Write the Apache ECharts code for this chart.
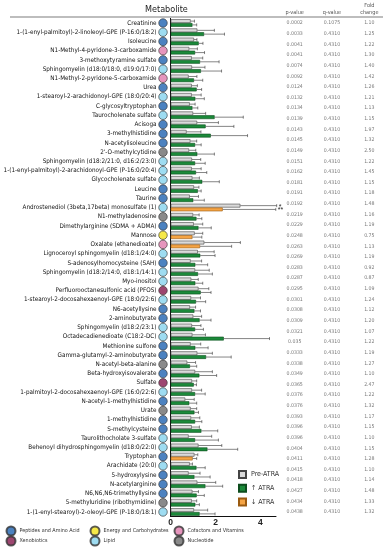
<!DOCTYPE html>
<html><head><meta charset="utf-8">
<script src="https://cdn.jsdelivr.net/npm/echarts@6/dist/echarts.min.js"></script>
<style>html,body{margin:0;padding:0;background:#fff}#c{width:388px;height:550px}</style>
</head><body><div id="c"></div><script>
const metabolites = [
'Creatinine','1-(1-enyl-palmitoyl)-2-linoleoyl-GPE (P-16:0/18:2)','Isoleucine','N1-Methyl-4-pyridone-3-carboxamide',
'3-methoxytyramine sulfate','Sphingomyelin (d18:0/18:0, d19:0/17:0)','N1-Methyl-2-pyridone-5-carboxamide','Urea',
'1-stearoyl-2-arachidonoyl-GPE (18:0/20:4)','C-glycosyltryptophan','Taurocholenate sulfate','Acisoga',
'3-methylhistidine','N-acetylisoleucine',"2'-O-methylcytidine",'Sphingomyelin (d18:2/21:0, d16:2/23:0)',
'1-(1-enyl-palmitoyl)-2-arachidonoyl-GPE (P-16:0/20:4)','Glycocholenate sulfate','Leucine','Taurine',
'Androstenediol (3beta,17beta) monosulfate (1)','N1-methyladenosine','Dimethylarginine (SDMA + ADMA)','Mannose',
'Oxalate (ethanedioate)','Lignoceroyl sphingomyelin (d18:1/24:0)','S-adenosylhomocysteine (SAH)','Sphingomyelin (d18:2/14:0, d18:1/14:1)',
'Myo-inositol','Perfluorooctanesulfonic acid (PFOS)','1-stearoyl-2-docosahexaenoyl-GPE (18:0/22:6)','N6-acetyllysine',
'2-aminobutyrate','Sphingomyelin (d18:2/23:1)','Octadecadienedioate (C18:2-DC)','Methionine sulfone',
'Gamma-glutamyl-2-aminobutyrate','N-acetyl-beta-alanine','Beta-hydroxyisovalerate','Sulfate',
'1-palmitoyl-2-docosahexaenoyl-GPE (16:0/22:6)','N-acetyl-1-methylhistidine','Urate','1-methylhistidine',
'S-methylcysteine','Taurolithocholate 3-sulfate','Behenoyl dihydrosphingomyelin (d18:0/22:0)','Tryptophan',
'Arachidate (20:0)','5-hydroxylysine','N-acetylarginine','N6,N6,N6-trimethyllysine',
'5-methyluridine (ribothymidine)','1-(1-enyl-stearoyl)-2-oleoyl-GPE (P-18:0/18:1)'
];
const classes = [
'A','L','A','C','A','L','C','A','L','A','L','A','A','A','N','L','L','L','A','A',
'L','N','A','E','C','L','A','L','L','X','L','A','A','L','L','A','A','N','A','X',
'L','A','N','A','A','L','L','A','L','A','A','A','N','L'
];
const preMean = [0.89,1.19,1.04,0.83,0.94,0.95,0.80,0.94,0.94,0.85,1.00,1.18,0.71,0.88,0.82,0.95,0.94,0.97,1.04,0.85,
3.11,1.00,1.03,1.07,1.50,1.21,0.89,1.09,0.92,1.24,0.91,0.86,1.01,0.95,0.97,0.89,1.19,0.74,1.09,0.95,
0.95,0.65,0.89,0.91,0.94,0.80,1.24,1.06,0.85,0.80,1.19,0.97,0.94,1.04];
const preErr = [0.17,0.76,0.13,0.36,0.49,0.58,0.37,0.25,0.42,0.24,0.56,0.95,0.64,0.28,0.30,0.39,0.42,0.31,0.22,0.39,
1.62,0.27,0.40,0.36,1.61,0.73,0.49,0.63,0.31,0.46,0.42,0.25,0.37,0.40,0.58,0.45,0.67,0.37,0.77,0.21,
0.43,0.40,0.27,0.39,0.34,1.03,1.04,0.15,0.12,0.51,0.82,0.27,0.22,0.61];
const atraMean = [0.97,1.49,1.25,1.09,1.31,1.35,1.04,1.16,1.10,0.97,1.96,1.56,1.79,1.09,1.19,1.09,1.13,1.41,1.21,1.01,
2.32,1.15,1.24,0.97,1.31,1.32,1.10,1.22,1.10,1.34,1.13,1.06,1.29,1.09,2.37,1.10,1.58,0.86,1.28,1.03,
1.09,0.83,1.06,1.09,1.37,1.09,1.64,0.98,1.15,1.06,1.55,1.16,1.10,1.29];
const atraErr = [0.19,0.91,0.19,0.42,0.85,0.92,0.39,0.22,0.40,0.24,1.28,1.26,1.64,0.27,0.76,0.45,0.48,0.76,0.15,0.49,
2.37,0.24,0.57,0.42,1.41,0.66,0.55,0.64,0.33,0.46,0.43,0.27,0.51,0.37,2.04,0.57,1.12,0.30,0.77,0.12,
0.45,0.33,0.18,0.30,0.73,1.04,1.35,0.18,0.39,0.70,0.77,0.34,0.18,0.69];
const direction = metabolites.map(function(){return 'up';});
const downRegulated = ['Androstenediol (3beta,17beta) monosulfate (1)','Mannose','Oxalate (ethanedioate)','Tryptophan'];
downRegulated.forEach(function(m){direction[metabolites.indexOf(m)]='down';});
const sigPre = {'Androstenediol (3beta,17beta) monosulfate (1)':'*'};
const sigAtra = {'Androstenediol (3beta,17beta) monosulfate (1)':'**'};

const pValues = ['0.0002','0.0033','0.0041','0.0041','0.0074','0.0092','0.0124','0.0132','0.0134','0.0139','0.0143','0.0145',
'0.0149','0.0151','0.0162','0.0181','0.0191','0.0192','0.0219','0.0229','0.0248','0.0263','0.0269','0.0283','0.0287',
'0.0295','0.0301','0.0308','0.0309','0.0321','0.035','0.0333','0.0338','0.0349','0.0365','0.0376','0.0376','0.0393',
'0.0396','0.0396','0.0404','0.0411','0.0415','0.0418','0.0427','0.0434','0.0438'];
const qValues = pValues.map(function(_,i){return i===0?'0.1075':'0.4310';});
const foldChange = ['1.10','1.25','1.22','1.30','1.40','1.42','1.26','1.21','1.13','1.15','1.97','1.32',
'2.50','1.22','1.45','1.15','1.18','1.48','1.16','1.19','0.75','1.13','1.19','0.92','0.87',
'1.09','1.24','1.12','1.20','1.07','1.22','1.19','1.27','1.10','2.47','1.22','1.32','1.17',
'1.15','1.10','1.15','1.28','1.10','1.14','1.48','1.33','1.32'];
const tableHeaders = ['p-value','q-value','Fold\nchange'];
const xTicks = [0,2,4];

const classCodes = ['A','E','C','X','L','N'];
const classNames = {A:'Peptides and Amino Acid',E:'Energy and Carbohydrates',C:'Cofactors and Vitamins',X:'Xenobiotics',L:'Lipid',N:'Nucleotide'};
const classColors = {A:'#1f63b0',E:'#f3e21a',C:'#e07aad',X:'#85184c',L:'#86d3ee',N:'#6d6d6d'};

const FONT = "'Liberation Sans Narrow','DejaVu Sans Condensed','Liberation Sans',sans-serif";
const GTOP = 18.4, GH = 498.2;
const TTOP = 17.7, TH = 499.6;

function errSeries(name, means, errs, slot, sigs){
  return {
    type:'custom', name:name, xAxisIndex:0, yAxisIndex:0, z:5, silent:true,
    data: means.map(function(m,i){return [m, errs[i], i];}),
    encode:{x:0, y:2},
    renderItem:function(params, api){
      const m = api.value(0), e = api.value(1), i = api.value(2);
      const c = api.coord([m, i]); const c2 = api.coord([m+e, i]);
      const band = api.size([0,1])[1];
      const y = c[1] + band*0.82/4*slot;
      const ch = [
        {type:'line', shape:{x1:c[0],y1:y,x2:c2[0],y2:y}, style:{stroke:'#333',lineWidth:0.6}},
        {type:'line', shape:{x1:c2[0],y1:y-1.5,x2:c2[0],y2:y+1.5}, style:{stroke:'#333',lineWidth:0.6}}
      ];
      const s = sigs[metabolites[i]];
      if (s) ch.push({type:'text', style:{text:s, x:c2[0]+2, y:y+1, verticalAlign:'middle', fill:'#222', font:'7px sans-serif'}});
      return {type:'group', children:ch};
    }
  };
}

const circleSeries = classCodes.map(function(k){
  return {
    type:'scatter', name:classNames[k], xAxisIndex:1, yAxisIndex:1, symbol:'circle', symbolSize:8.5,
    itemStyle:{color:classColors[k], borderColor:'#333', borderWidth:0.8},
    data: classes.map(function(c,i){return c===k?[0,i]:null;}).filter(function(d){return d;})
  };
});

const tableData = [];
pValues.forEach(function(p,r){
  [p, qValues[r], foldChange[r]].forEach(function(t,col){ tableData.push({value:[col,r], name:t}); });
});

const catLegendPos = [[5.5,525.5],[89.5,525.5],[173.5,525.5],[5.5,535.5],[89.5,535.5],[173.5,535.5]];
const catLegends = classCodes.map(function(k,j){
  return {data:[classNames[k]], left:catLegendPos[j][0], top:catLegendPos[j][1], padding:0, icon:'circle',
    itemWidth:9, itemHeight:9, itemGap:0, selectedMode:false,
    textStyle:{fontSize:5.4, fontFamily:FONT, color:'#333', padding:[0,0,0,-1]}};
});

const chart = echarts.init(document.getElementById('c'), null, {renderer:'canvas'});
chart.setOption({
  animation:false,
  title:{text:'Metabolite', left:145, top:5, padding:0, textStyle:{fontSize:9, fontWeight:'normal', fontFamily:FONT, color:'#222'}},
  graphic:[{type:'line', shape:{x1:10,y1:17,x2:383,y2:17}, style:{stroke:'#444', lineWidth:0.7}}],
  legend:[{data:['Pre-ATRA','↑ ATRA','↓ ATRA'], orient:'vertical', left:238, top:470, padding:0, icon:'rect',
    itemWidth:7, itemHeight:7, itemGap:4.7, selectedMode:false,
    textStyle:{fontSize:7, fontFamily:FONT, color:'#333'}}].concat(catLegends),
  grid:[
    {left:170.7, top:GTOP, width:105.3, height:GH},
    {left:158.5, top:GTOP, width:9, height:GH},
    {left:276, top:TTOP, width:114, height:TH}
  ],
  xAxis:[
    {type:'value', gridIndex:0, min:0, max:4.7, interval:2, splitLine:{show:false},
      axisLine:{show:true, lineStyle:{color:'#111', width:1}}, axisTick:{show:false},
      axisLabel:{margin:2, fontSize:8.5, fontWeight:'bold', color:'#222', fontFamily:'Liberation Sans, sans-serif',
        formatter:function(v){return xTicks.indexOf(v)>=0?String(v):'';}}},
    {type:'value', gridIndex:1, min:-1, max:1, show:false},
    {type:'category', gridIndex:2, position:'top', data:tableHeaders, axisLine:{show:false}, axisTick:{show:false},
      axisLabel:{margin:2, fontSize:5.5, color:'#555', fontFamily:FONT, lineHeight:6.5}}
  ],
  yAxis:[
    {type:'category', gridIndex:0, inverse:true, data:metabolites, axisLine:{show:true, lineStyle:{color:'#111', width:1}},
      axisTick:{show:false}, axisLabel:{show:false}},
    {type:'category', gridIndex:1, inverse:true, data:metabolites, axisLine:{show:false}, axisTick:{show:false},
      splitLine:{show:false}, axisLabel:{show:true, margin:2, fontSize:6.3, color:'#111', fontFamily:FONT, interval:0}},
    {type:'category', gridIndex:2, inverse:true, data:pValues.map(function(_,i){return i;}), show:false}
  ],
  series:[
    {type:'bar', name:'Pre-ATRA', xAxisIndex:0, yAxisIndex:0, data:preMean, barGap:'0%', barCategoryGap:'18%',
      itemStyle:{color:'#dadada', borderColor:'#444', borderWidth:0.6}},
    {type:'bar', name:'↑ ATRA', xAxisIndex:0, yAxisIndex:0, stack:'atra',
      data:atraMean.map(function(v,i){return direction[i]==='up'?v:'-';}),
      itemStyle:{color:'#1b8a3a', borderColor:'#0d4d1e', borderWidth:0.6}},
    {type:'bar', name:'↓ ATRA', xAxisIndex:0, yAxisIndex:0, stack:'atra',
      data:atraMean.map(function(v,i){return direction[i]==='down'?v:'-';}),
      itemStyle:{color:'#f5a444', borderColor:'#9a5a10', borderWidth:0.6}},
    errSeries('errPre', preMean, preErr, -1, sigPre),
    errSeries('errAtra', atraMean, atraErr, 1, sigAtra),
    {type:'scatter', xAxisIndex:2, yAxisIndex:2, symbolSize:0, data:tableData, silent:true,
      label:{show:true, position:'inside', formatter:'{b}', fontSize:5.2, color:'#555', fontFamily:FONT}}
  ].concat(circleSeries)
});
</script></body></html>
